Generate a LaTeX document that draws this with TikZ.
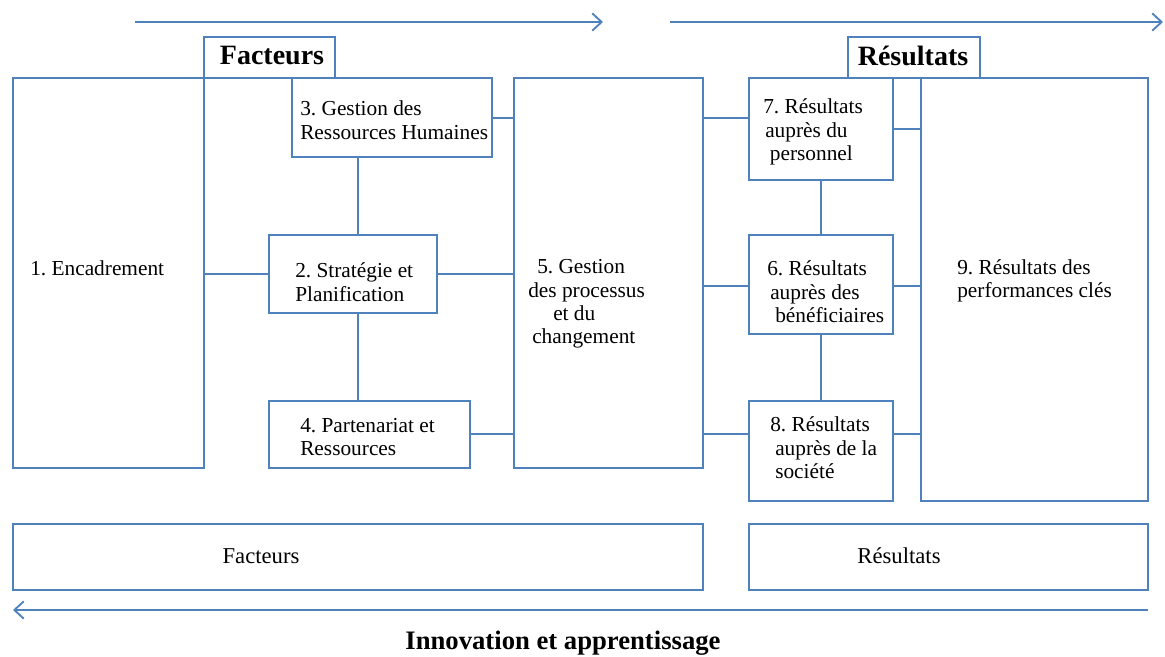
\documentclass[tikz,border=0pt]{standalone}
\usepackage{fontspec}
\setmainfont{Liberation Serif}
\frenchspacing
\usetikzlibrary{arrows.meta,fit}
\definecolor{lineblue}{RGB}{79,129,189}
\begin{document}
\begin{tikzpicture}[x=0.75pt,y=-0.75pt,
  box/.style={draw=lineblue,line width=1.4pt,inner sep=0pt,rectangle},
  conn/.style={draw=lineblue,line width=1.4pt},
  flow/.style={draw=lineblue,line width=1.4pt,-{Straight Barb[length=7pt,width=13pt,line width=1.4pt]}},
  txt/.style={inner sep=0pt,align=left,font=\frenchspacing\fontsize{16}{17.6}\selectfont},
  lbl/.style={inner sep=0pt,font=\fontsize{17}{20}\selectfont},
  head/.style={inner sep=0pt,font=\fontsize{21}{24}\selectfont\bfseries},
]
\useasboundingbox (0,0) rectangle (1165,657);

% heading boxes
\node[box,fit={(204,37)(335,78)}] (hf) {};
\node[box,fit={(848,37)(980,78)}] (hr) {};
\node[head] (hft) at (272,56) {Facteurs};
\node[head] (hrt) at (913,56) {Résultats};

% main boxes
\node[box,fit={(13,78)(204,468)}] (b1) {};
\node[box,fit={(292,78)(492,157)}] (b3) {};
\node[box,fit={(269,235)(437,313)}] (b2) {};
\node[box,fit={(269,401)(470,468)}] (b4) {};
\node[box,fit={(514,78)(703,468)}] (b5) {};
\node[box,fit={(749,78)(893,180)}] (b7) {};
\node[box,fit={(749,235)(893,334)}] (b6) {};
\node[box,fit={(749,401)(893,501)}] (b8) {};
\node[box,fit={(921,78)(1148,501)}] (b9) {};
\node[box,fit={(13,524)(703,590)}] (bf) {};
\node[box,fit={(749,524)(1148,590)}] (br) {};

% texts
\node[txt,anchor=west] (t1) at (30,268) {1. Encadrement};
\node[txt,anchor=west] (t3) at (300,120) {3. Gestion des\\Ressources Humaines};
\node[txt,anchor=west] (t2) at (295,282) {2. Stratégie et\\Planification};
\node[txt,anchor=west] (t4) at (300,437) {4. Partenariat et\\Ressources};
\node[txt,anchor=west] (t5) at (528,304) {\hspace*{6.75pt}5. Gestion\\des processus\\\hspace*{18.75pt}et du\\\hspace*{3pt}changement};
\node[txt,anchor=west] (t7) at (763,132) {7. Résultats\\\hspace*{1.5pt}auprès du\\\hspace*{5pt}personnel};
\node[txt,anchor=west] (t6) at (767,292) {6. Résultats\\\hspace*{2.25pt}auprès des\\\hspace*{6pt}bénéficiaires};
\node[txt,anchor=west] (t8) at (770,448) {8. Résultats\\\hspace*{3.75pt}auprès de la\\\hspace*{3.75pt}société};
\node[txt,anchor=west] (t9) at (957,281) {9. Résultats des\\performances clés};
\node[lbl] (tf) at (261,556) {Facteurs};
\node[lbl] (tr) at (899,556) {Résultats};
\node[inner sep=0pt,font=\fontsize{20}{24}\selectfont\bfseries] (tin) at (563,643) {Innovation et apprentissage};

% helper levels
\coordinate (v1) at (358,0);
\coordinate (h1) at (0,118);
\coordinate (h2) at (0,274);
\coordinate (h3) at (0,434);
\coordinate (h4) at (0,129);
\coordinate (h5) at (0,286);

% connectors
\draw[conn] (b1.east |- h2) -- (b2.west |- h2);
\draw[conn] (b3.south -| v1) -- (b2.north -| v1);
\draw[conn] (b2.south -| v1) -- (b4.north -| v1);
\draw[conn] (b3.east |- h1) -- (b5.west |- h1);
\draw[conn] (b2.east |- h2) -- (b5.west |- h2);
\draw[conn] (b4.east |- h3) -- (b5.west |- h3);
\draw[conn] (b5.east |- h1) -- (b7.west |- h1);
\draw[conn] (b5.east |- h5) -- (b6.west |- h5);
\draw[conn] (b5.east |- h3) -- (b8.west |- h3);
\draw[conn] (b7.south) -- (b6.north);
\draw[conn] (b6.south) -- (b8.north);
\draw[conn] (b7.east |- h4) -- (b9.west |- h4);
\draw[conn] (b6.east |- h5) -- (b9.west |- h5);
\draw[conn] (b8.east |- h3) -- (b9.west |- h3);

% flow arrows
\coordinate (a1s) at (135,22);
\coordinate (a1e) at (603,22);
\coordinate (a2s) at (670,22);
\coordinate (a2e) at (1163,22);
\coordinate (a3s) at (1148,610);
\coordinate (a3e) at (13,610);
\draw[flow] (a1s) -- (a1e);
\draw[flow] (a2s) -- (a2e);
\draw[flow] (a3s) -- (a3e);
\end{tikzpicture}
\end{document}
